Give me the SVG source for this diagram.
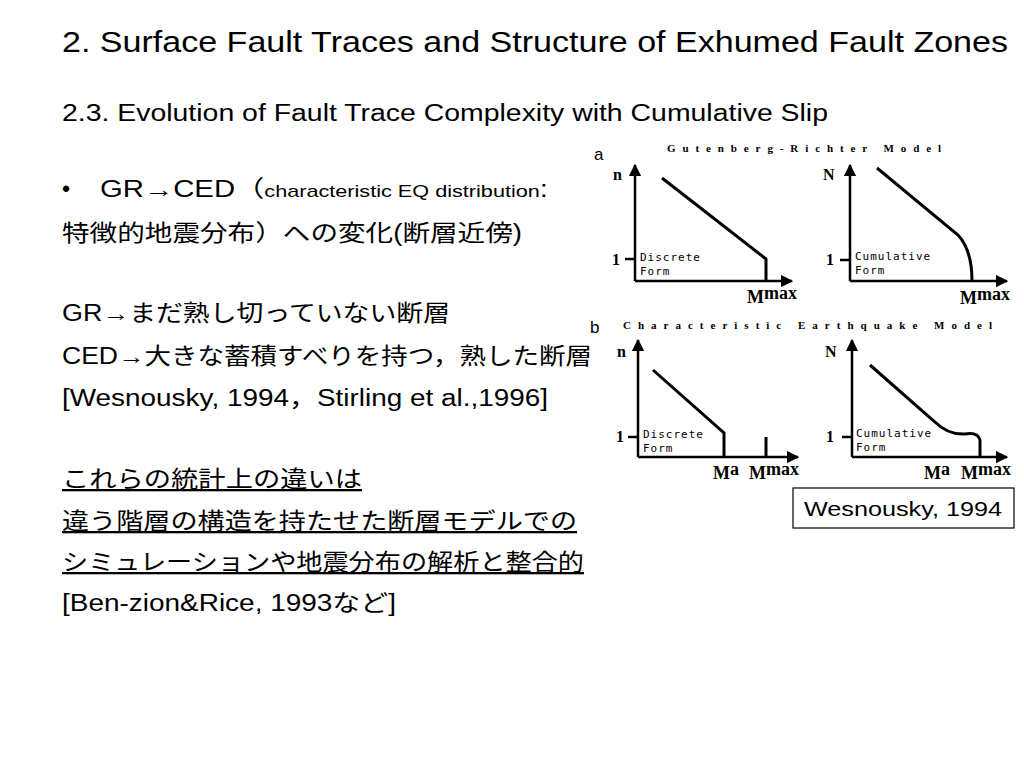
<svg xmlns="http://www.w3.org/2000/svg" width="1024" height="768" viewBox="0 0 1024 768">
<style>
.t{font-family:"Liberation Sans","Noto Sans CJK JP",sans-serif;fill:#000}
.b{font-size:23px}
.ax{stroke:#000;stroke-width:2.5;fill:none}
.cv{stroke:#000;stroke-width:3;fill:none}
.ttl{font-family:"Liberation Serif",serif;font-weight:bold;font-size:11px;letter-spacing:6px}
.lb{font-family:"Liberation Serif",serif;font-weight:bold;font-size:16px}
.fm{font-family:"DejaVu Sans Mono",monospace;font-size:11px;letter-spacing:1px}
.m{font-family:"Liberation Serif",serif;font-weight:bold;font-size:18px}
</style>
<defs><marker id="ar" viewBox="0 0 10 10" refX="9" refY="5" markerWidth="5" markerHeight="5" orient="auto"><path d="M0,0L10,5L0,10z"/></marker></defs>
<rect width="1024" height="768" fill="#fff"/>
<text class="t" x="62" y="52" font-size="29" textLength="946" lengthAdjust="spacingAndGlyphs">2. Surface Fault Traces and Structure of Exhumed Fault Zones</text>
<text class="t" x="62" y="121" font-size="23" textLength="766" lengthAdjust="spacingAndGlyphs">2.3. Evolution of Fault Trace Complexity with Cumulative Slip</text>
<text class="t b" x="62" y="197">•</text>
<text class="t b" x="100" y="197" textLength="448" lengthAdjust="spacingAndGlyphs">GR→CED（<tspan font-size="17">characteristic EQ distribution</tspan>:</text>
<text class="t b" x="62" y="241" textLength="460" lengthAdjust="spacingAndGlyphs">特徴的地震分布）への変化(断層近傍)</text>
<text class="t b" x="62" y="321" textLength="388" lengthAdjust="spacingAndGlyphs">GR→まだ熟し切っていない断層</text>
<text class="t b" x="62" y="364" textLength="530" lengthAdjust="spacingAndGlyphs">CED→大きな蓄積すべりを持つ，熟した断層</text>
<text class="t b" x="62" y="406" textLength="486" lengthAdjust="spacingAndGlyphs">[Wesnousky, 1994，Stirling et al.,1996]</text>
<text class="t b" x="62" y="487" textLength="300" lengthAdjust="spacingAndGlyphs" text-decoration="underline">これらの統計上の違いは</text>
<text class="t b" x="62" y="529" textLength="515" lengthAdjust="spacingAndGlyphs" text-decoration="underline">違う階層の構造を持たせた断層モデルでの</text>
<text class="t b" x="62" y="570" textLength="522" lengthAdjust="spacingAndGlyphs" text-decoration="underline">シミュレーションや地震分布の解析と整合的</text>
<text class="t b" x="62" y="611" textLength="334" lengthAdjust="spacingAndGlyphs">[Ben-zion&amp;Rice, 1993など]</text>
<g id="figa">
<text class="t" x="594" y="160" font-size="17">a</text>
<text class="ttl" x="667" y="152" textLength="280">Gutenberg-Richter Model</text>
<path class="ax" d="M635,281V165" marker-end="url(#ar)"/><path class="ax" d="M635,281H792" marker-end="url(#ar)"/>
<path class="ax" d="M625,259H635"/>
<text class="lb" x="613" y="180">n</text><text class="lb" x="612" y="265">1</text>
<text class="fm" x="640" y="261">Discrete</text><text class="fm" x="640" y="275">Form</text>
<path class="cv" d="M662,178L766,259V281"/>
<text class="m" x="747" y="303">M<tspan dy="-4">max</tspan></text>
<path class="ax" d="M850,281V165" marker-end="url(#ar)"/><path class="ax" d="M850,281H1007" marker-end="url(#ar)"/>
<path class="ax" d="M840,260H850"/>
<text class="lb" x="823" y="180">N</text><text class="lb" x="826" y="265">1</text>
<text class="fm" x="855" y="260">Cumulative</text><text class="fm" x="855" y="274">Form</text>
<path class="cv" d="M877,168L958,235Q972,250 972,281"/>
<text class="m" x="960" y="304">M<tspan dy="-4">max</tspan></text>
</g>
<g id="figb">
<text class="t" x="590" y="333" font-size="17">b</text>
<text class="ttl" x="623" y="329" textLength="375">Characteristic Earthquake Model</text>
<path class="ax" d="M638,457V340" marker-end="url(#ar)"/><path class="ax" d="M638,457H798" marker-end="url(#ar)"/>
<path class="ax" d="M628,437H638"/>
<text class="lb" x="617" y="357">n</text><text class="lb" x="616" y="442">1</text>
<text class="fm" x="643" y="438">Discrete</text><text class="fm" x="643" y="452">Form</text>
<path class="cv" d="M653,370L724,433V457M766,437V457"/>
<text class="m" x="713" y="479">M<tspan dy="-4">a</tspan></text>
<text class="m" x="749" y="479">M<tspan dy="-4">max</tspan></text>
<path class="ax" d="M852,457V340" marker-end="url(#ar)"/><path class="ax" d="M852,457H1007" marker-end="url(#ar)"/>
<path class="ax" d="M842,437H852"/>
<text class="lb" x="825" y="357">N</text><text class="lb" x="826" y="442">1</text>
<text class="fm" x="856" y="437">Cumulative</text><text class="fm" x="856" y="451">Form</text>
<path class="cv" d="M870,365L935,422Q948,435 965,434Q978,432 980,440V457"/>
<text class="m" x="924" y="479">M<tspan dy="-4">a</tspan></text>
<text class="m" x="961" y="479">M<tspan dy="-4">max</tspan></text>
</g>
<g id="cite">
<rect x="793" y="488" width="221" height="40" fill="#fff" stroke="#000" stroke-width="1.2"/>
<text class="t" x="903" y="516" font-size="20" text-anchor="middle" textLength="198" lengthAdjust="spacingAndGlyphs">Wesnousky, 1994</text>
</g>
</svg>
